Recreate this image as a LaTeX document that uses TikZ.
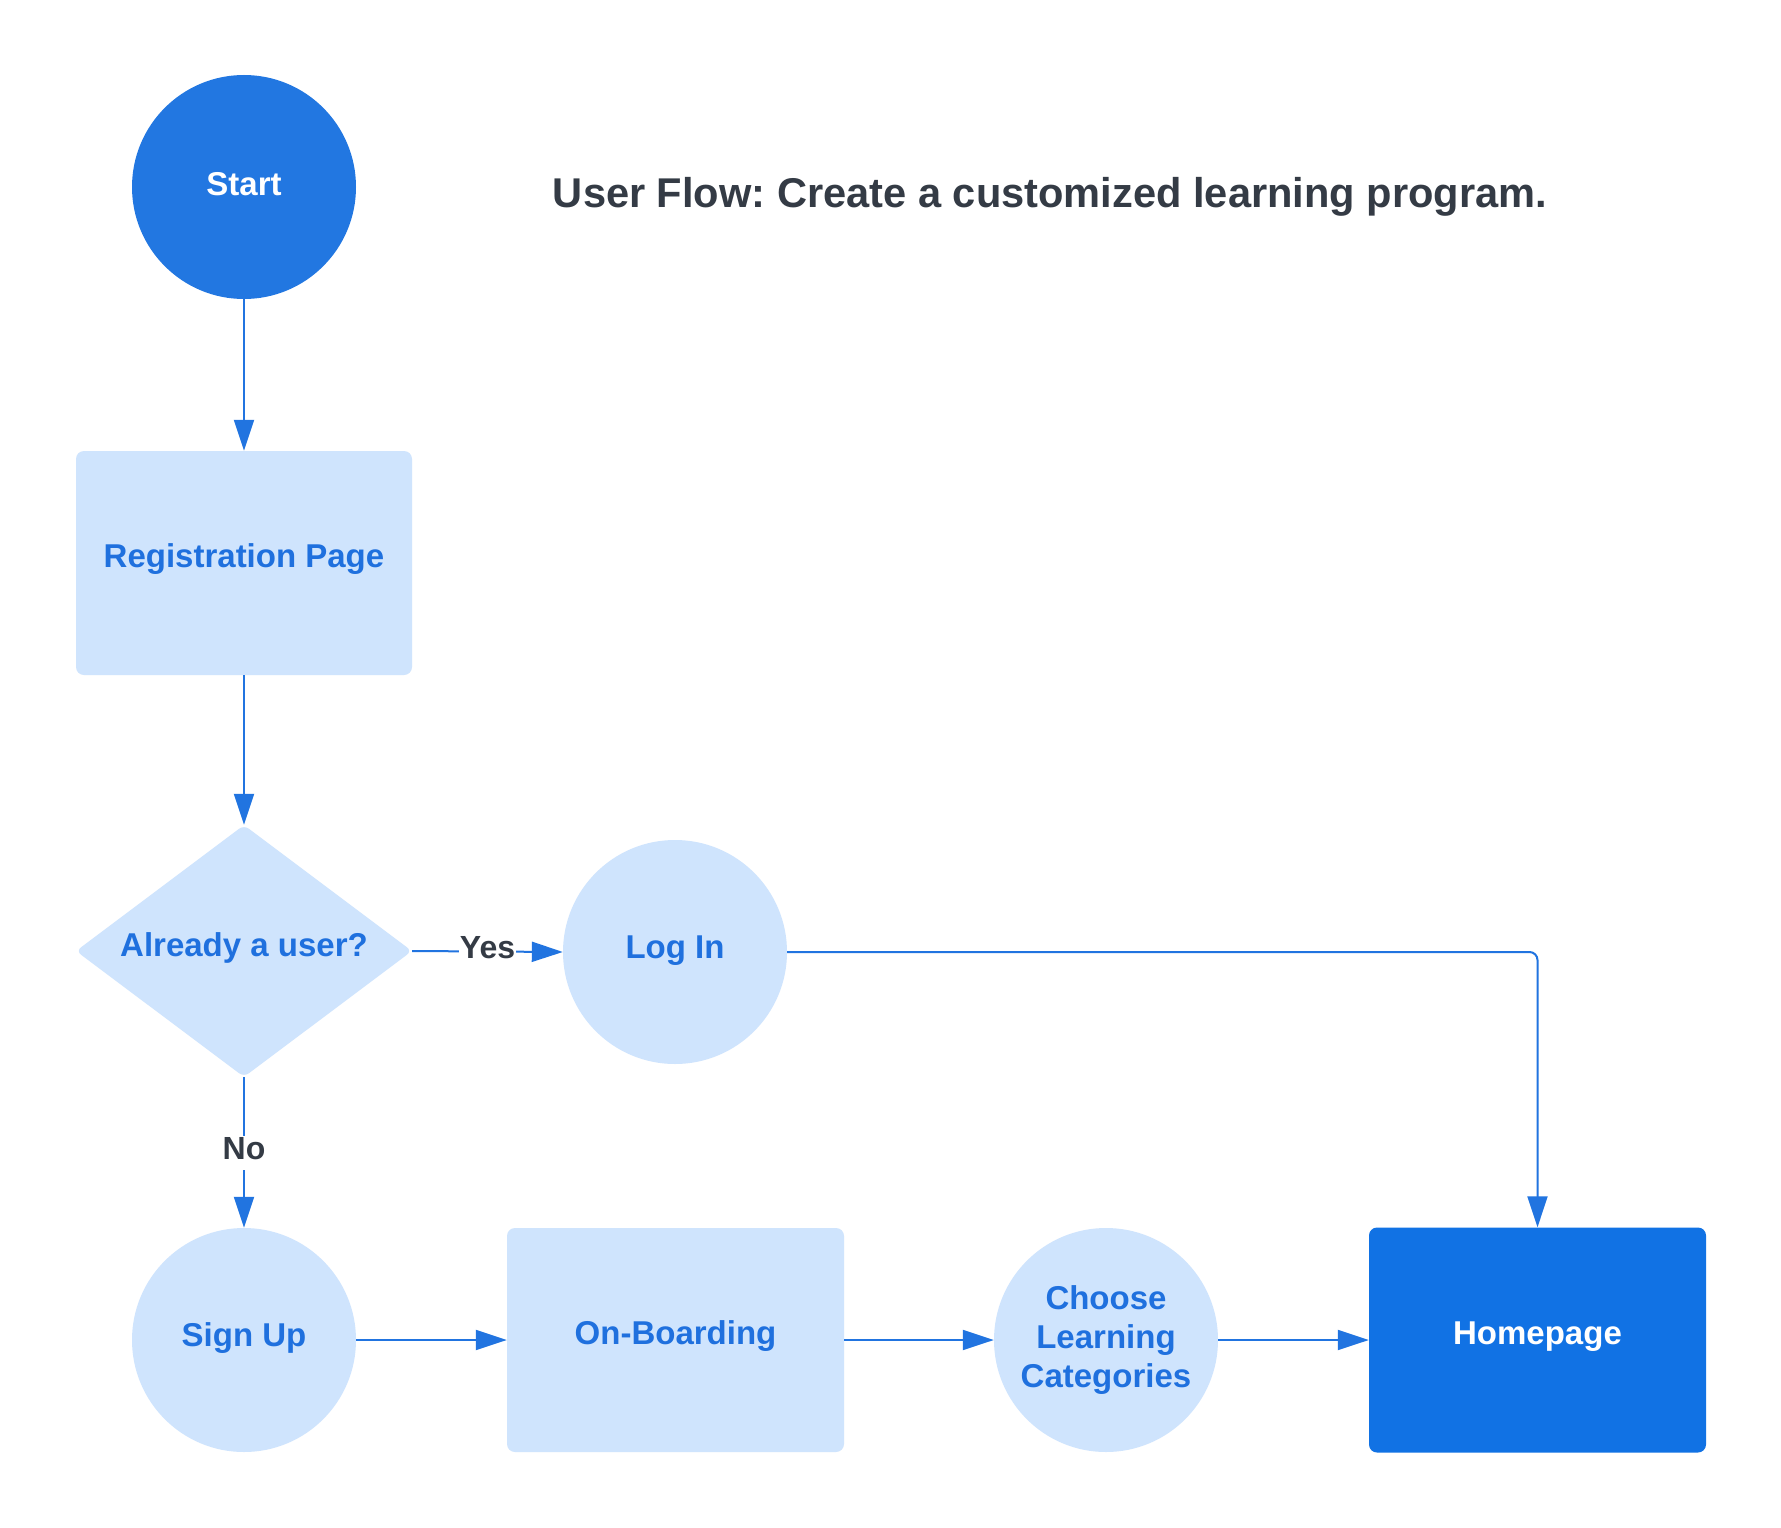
\documentclass[tikz,border=0pt]{standalone}
\usepackage{fontspec}
\setmainfont{Liberation Sans}
\frenchspacing
\usetikzlibrary{shapes.geometric,arrows.meta}
\definecolor{startblue}{HTML}{2277E1}
\definecolor{homeblue}{HTML}{1172E4}
\definecolor{lightblue}{HTML}{CFE4FD}
\definecolor{txtblue}{HTML}{1F70DE}
\definecolor{linkblue}{HTML}{2174E0}
\definecolor{darktxt}{HTML}{343B45}
\begin{document}
\begin{tikzpicture}[x=1pt,y=-1pt,
  nodefont/.style={font=\bfseries\fontsize{33}{40}\selectfont},
  oneline/.style={text height=24pt,text depth=12pt},
  startnode/.style={circle,fill=startblue,text=white,nodefont,text height=24pt,text depth=8pt,minimum size=224pt,inner sep=0pt},
  bubble/.style={circle,fill=lightblue,text=txtblue,nodefont,minimum size=224pt,inner sep=0pt,align=center},
  procbox/.style={rectangle,rounded corners=8pt,fill=lightblue,text=txtblue,nodefont,text height=24pt,text depth=15pt,minimum width=336pt,minimum height=224pt,inner sep=0pt},
  homebox/.style={rectangle,rounded corners=8pt,fill=homeblue,text=white,nodefont,text height=24pt,text depth=15pt,minimum width=337pt,minimum height=225pt,inner sep=0pt},
  decision/.style={diamond,aspect=1.33,rounded corners=6pt,fill=lightblue,text=txtblue,nodefont,text height=24pt,text depth=13pt,minimum width=336pt,minimum height=252pt,inner sep=0pt},
  conn/.style={draw=linkblue,line width=2pt,-{Triangle[length=31pt,width=20pt]}},
  lbl/.style={fill=white,text=darktxt,font=\bfseries\fontsize{32}{38}\selectfont,text height=23pt,text depth=9pt,inner sep=1pt},
  titlestyle/.style={text=darktxt,font=\bfseries\fontsize{41.6}{50}\selectfont,inner sep=0pt}]
\useasboundingbox[fill=white] (0,0) rectangle (1781,1528);
\node[titlestyle] (title) at (1050,197) {User Flow: Create a customized learning program.};
\node[startnode] (start) at (244,187) {Start};
\node[procbox] (reg) at (244,563) {Registration Page};
\node[decision] (dec) at (244,951) {Already a user?};
\node[bubble,oneline] (login) at (675,952) {Log In};
\node[bubble,oneline] (signup) at (244,1340) {Sign Up};
\node[procbox,minimum width=337pt] (onb) at (675.5,1340) {On-Boarding};
\node[bubble] (choose) at (1106,1340) {Choose\\[-1pt]Learning\\[-1pt]Categories};
\node[homebox] (home) at (1537.5,1340) {Homepage};
\draw[conn] (start.south) -- (reg.north);
\draw[conn] (reg.south) -- (dec.north);
\draw[conn] (dec.east) -- node[lbl] {Yes} (login.west);
\draw[conn] (dec.south) -- node[lbl] {No} (signup.north);
\draw[conn,rounded corners=8pt] (login.east) -| (home.north);
\draw[conn] (signup.east) -- (onb.west);
\draw[conn] (onb.east) -- (choose.west);
\draw[conn] (choose.east) -- (home.west);
\end{tikzpicture}
\end{document}
